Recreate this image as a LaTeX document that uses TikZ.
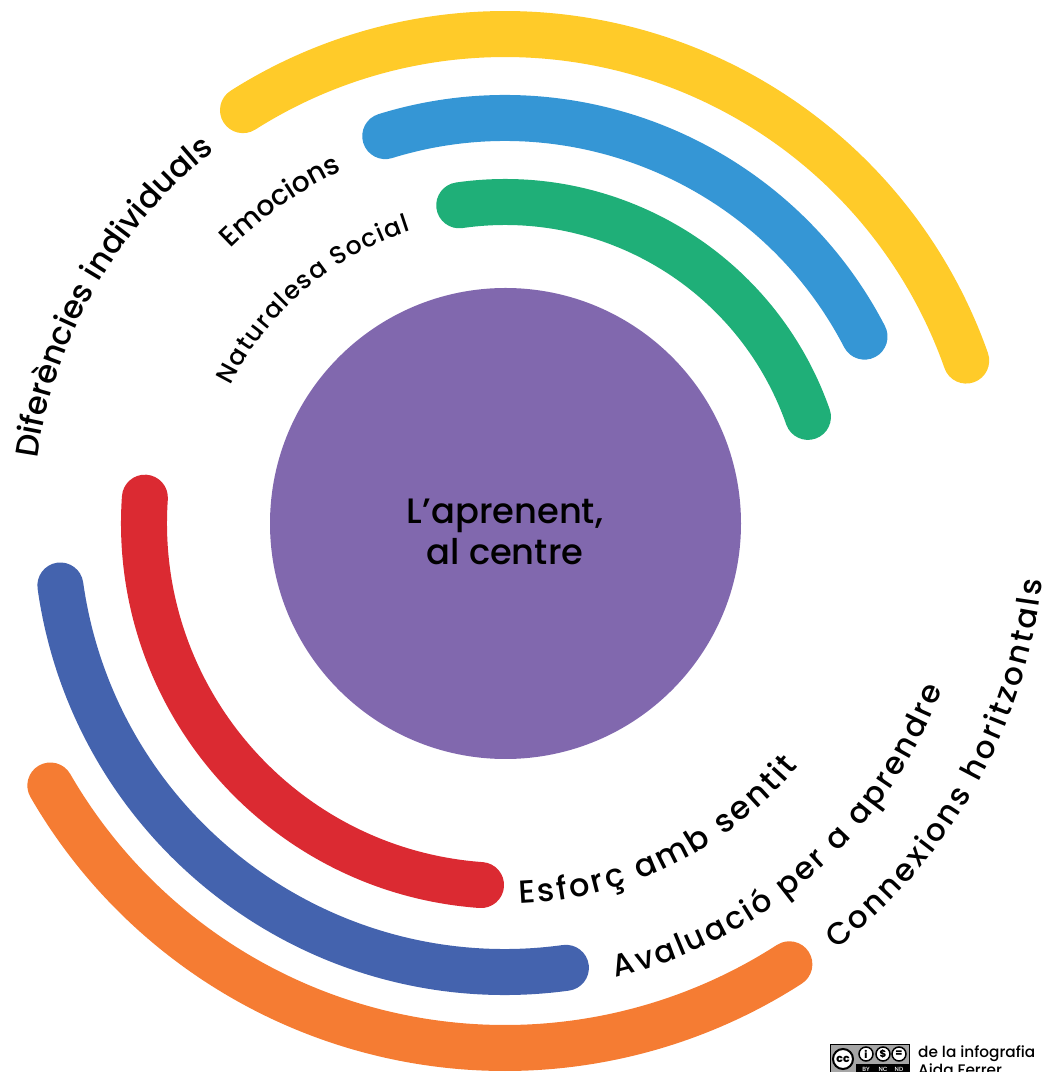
\documentclass[tikz,border=0pt]{standalone}
\usepackage{fontspec}
\usetikzlibrary{decorations.text}
\setmainfont{Poppins Medium}
\definecolor{groc}{HTML}{FFCB29}
\definecolor{blau}{HTML}{3596D5}
\definecolor{verd}{HTML}{1FAF78}
\definecolor{lila}{HTML}{8168AE}
\definecolor{vermell}{HTML}{DB2A32}
\definecolor{indi}{HTML}{4463AE}
\definecolor{taronja}{HTML}{F57C33}
\newcommand{\labelA}{\fontsize{31}{31}\selectfont}
\newcommand{\labelB}{\fontsize{32}{32}\selectfont}
\newcommand{\labelC}{\fontsize{28}{28}\selectfont}
\newcommand{\labelD}{\fontsize{25}{25}\selectfont}
\begin{document}
\begin{tikzpicture}[x=1pt,y=1pt,
    band/.style ={line width=46pt, line cap=round},
    curved/.style ={decorate, decoration={text along path, text align=fit to path, text={#1}}},
    icon/.style ={circle, fill=white, draw=black, line width=1.5pt, inner sep=0pt, minimum size=14pt, font=\bfseries\fontsize{10}{10}\selectfont},
    tag/.style ={inner sep=0pt, text=white, font=\fontsize{6}{6}\selectfont},
    credit/.style ={anchor=base west, inner sep=0pt, font=\fontsize{15.3}{15.3}\selectfont}]
   \useasboundingbox (0,0) rectangle (1049,1072);
   \coordinate (o) at (505,549);
   \coordinate (p) at (507,549);
   \node[circle, fill=lila, inner sep=0pt, minimum size=471pt] (learner) at (505.5,548.5) {};
   \node[align=center, font=\fontsize{35.3}{41}\selectfont] (title) at (505,540) {L’aprenent,\\al centre};
   \draw[band,groc] ([shift={(122.4:489)}]o) arc (122.4:19.4:489);
   \draw[band,blau] ([shift={(107.2:405)}]o) arc (107.2:27.4:405);
   \draw[band,verd] ([shift={(98.2:321)}]o) arc (98.2:19.3:321);
   \draw[band,vermell] ([shift={(176:363)}]p) arc (176:265.9:363);
   \draw[band,indi] ([shift={(188:449)}]o) arc (188:277.8:449);
   \draw[band,taronja] ([shift={(210:525)}]o) arc (210:302.8:525);
   \path[curved=|\labelB|Diferències individuals] ([shift={(172.2:472)}]o) arc (172.2:128:472);
   \path[curved=|\labelC|Emocions] ([shift={(135:388)}]o) arc (135:114.8:388);
   \path[curved=|\labelD|Naturalesa Social] ([shift={(153.4:307)}]o) arc (153.4:107.8:307);
   \path[curved=|\labelB|Esforç amb sentit] ([shift={(272.2:381)}]o) arc (272.2:320.3:381);
   \path[curved=|\labelA|Avaluació per a aprendre] ([shift={(283.7:468)}]o) arc (283.7:339.2:468);
   \path[curved=|\labelA|Connexions horitzontals] ([shift={(307.8:540)}]o) arc (307.8:353.9:540);
   \fill[black!35] (830,-4) rectangle (909,27);
   \fill[black] (856,-4) rectangle (909,8);
   \draw[black, line width=1pt] (830,-4) rectangle (909,27);
   \node[circle, fill=white, draw=black, line width=2pt, inner sep=0pt, minimum size=20pt, font=\bfseries\fontsize{11}{11}\selectfont] (cc) at (843,13) {cc};
   \node[icon] (by) at (866,18) {i};
   \node[icon] (nc) at (883,18) {\$};
   \node[icon] (nd) at (899,18) {=};
   \node[tag] (bytag) at (866,3) {BY};
   \node[tag] (nctag) at (883,3) {NC};
   \node[tag] (ndtag) at (899,3) {ND};
   \node[credit] (line1) at (918,15) {de la infografia};
   \node[credit] (line2) at (918,-3) {Aida Ferrer};
\end{tikzpicture}
\end{document}
